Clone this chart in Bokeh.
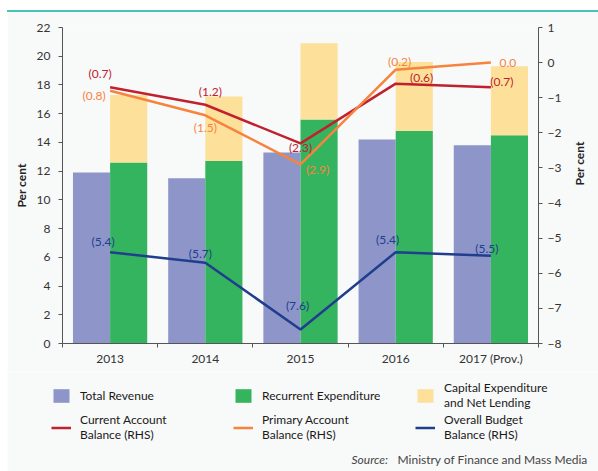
import math
from bokeh.plotting import figure
from bokeh.models import (Range1d, LinearAxis, FixedTicker, ColumnDataSource,
                          Legend, LegendItem, Label, Div, Spacer)
from bokeh.layouts import column, row
from bokeh.transform import dodge
from bokeh.embed import file_html
from bokeh.resources import INLINE
from bokeh.core.properties import value

# ---------------- data ----------------
years = ["2013", "2014", "2015", "2016", "2017 (Prov.)"]
total_revenue = [11.9, 11.5, 13.3, 14.2, 13.8]
recurrent_expenditure = [12.6, 12.7, 15.6, 14.8, 14.5]
capital_expenditure = [4.7, 4.5, 5.3, 4.8, 4.8]
current_account_balance = [-0.7, -1.2, -2.3, -0.6, -0.7]
primary_account_balance = [-0.8, -1.5, -2.9, -0.2, 0.0]
overall_budget_balance = [-5.4, -5.7, -7.6, -5.4, -5.5]
left_ticks = list(range(0, 23, 2))
right_ticks = list(range(-8, 2))
series_names = ["Total Revenue", "Recurrent Expenditure",
                "Capital Expenditure\nand Net Lending",
                "Current Account\nBalance (RHS)", "Primary Account\nBalance (RHS)",
                "Overall Budget\nBalance (RHS)"]

# ---------------- styling ----------------
BG = "#f8f9f9"
C_REV = "#8e96c9"
C_REC = "#35b45f"
C_CAP = "#fde19b"
C_CUR = "#c1212f"
C_PRI = "#f7843e"
C_OVR = "#203d8e"
FONT = "Lato"
TXT = "#333333"
W = 591

# label pixel offsets (screen px) for the line value labels
cur_dx = [-10, 5, 0, 26, 11]
cur_dy = [-14, -13, 4, -6, -6]
pri_dx = [-16, 0, 17, 4, 17]
pri_dy = [5, 12, 5, -8, 0]
ovr_dx = [-7, -5, -3, -8, -4]
ovr_dy = [-11, -9, -24, -13, -7]


def fmt(v):
    return f"({abs(v):.1f})" if v < 0 else f"{v:.1f}"


xs = list(range(1, len(years) + 1))
src = ColumnDataSource(dict(
    x=xs,
    rev=total_revenue,
    rec=recurrent_expenditure,
    cap_top=[r + c for r, c in zip(recurrent_expenditure, capital_expenditure)],
    cur=current_account_balance,
    pri=primary_account_balance,
    ovr=overall_budget_balance,
    cur_t=[fmt(v) for v in current_account_balance],
    pri_t=[fmt(v) for v in primary_account_balance],
    ovr_t=[fmt(v) for v in overall_budget_balance],
    cur_dx=cur_dx, cur_dy=cur_dy,
    pri_dx=pri_dx, pri_dy=pri_dy,
    ovr_dx=ovr_dx, ovr_dy=ovr_dy,
))

p = figure(width=W, height=360,
           x_range=Range1d(0.5, len(years) + 0.5), y_range=Range1d(0, 22),
           output_backend="svg", toolbar_location=None,
           min_border_left=55, min_border_right=60,
           min_border_top=15, min_border_bottom=29,
           background_fill_color=BG, border_fill_color=BG,
           outline_line_color=None)
p.extra_y_ranges = {"right": Range1d(-8, 1)}
p.grid.visible = False

BW = 0.39


def draw_series(fig, **extra):
    r1 = fig.vbar(x=dodge("x", -BW / 2, range=fig.x_range), top="rev", bottom=0, width=BW,
                  source=src, fill_color=C_REV, line_color=None, **extra)
    r2 = fig.vbar(x=dodge("x", BW / 2, range=fig.x_range), top="rec", bottom=0, width=BW,
                  source=src, fill_color=C_REC, line_color=None, **extra)
    r3 = fig.vbar(x=dodge("x", BW / 2, range=fig.x_range), top="cap_top", bottom="rec",
                  width=BW, source=src, fill_color=C_CAP, line_color=None, **extra)
    r4 = fig.line(x="x", y="cur", source=src, y_range_name="right",
                  line_color=C_CUR, line_width=2.5, **extra)
    r5 = fig.line(x="x", y="pri", source=src, y_range_name="right",
                  line_color=C_PRI, line_width=2.5, **extra)
    r6 = fig.line(x="x", y="ovr", source=src, y_range_name="right",
                  line_color=C_OVR, line_width=2.5, **extra)
    return [r1, r2, r3, r4, r5, r6]


draw_series(p)

for key, col in (("cur", C_CUR), ("pri", C_PRI), ("ovr", C_OVR)):
    p.text(x="x", y=key, text=key + "_t", x_offset=key + "_dx", y_offset=key + "_dy",
           source=src, y_range_name="right", text_color=col,
           text_font=value(FONT), text_font_size="12px",
           text_align="center", text_baseline="middle")

# x axis: labels at centres, ticks at category boundaries
xa = p.xaxis[0]
xa.ticker = FixedTicker(ticks=xs, minor_ticks=[i + 0.5 for i in range(len(years) + 1)])
xa.major_label_overrides = {i: y for i, y in zip(xs, years)}
xa.major_tick_out = 0
xa.major_tick_in = 0
xa.minor_tick_out = 4
xa.minor_tick_in = 0
xa.axis_line_color = "#555555"
xa.minor_tick_line_color = "#555555"
xa.major_label_standoff = 3
xa.major_label_text_font = FONT
xa.major_label_text_font_size = "12px"
xa.major_label_text_color = TXT

ya = p.yaxis[0]
ya.ticker = FixedTicker(ticks=left_ticks, minor_ticks=[])
ya.axis_label = "Per cent"

yr = LinearAxis(y_range_name="right", ticker=FixedTicker(ticks=right_ticks, minor_ticks=[]),
                axis_label="Per cent")
p.add_layout(yr, "right")

for ax, std, lstd in ((ya, 8, 5), (yr, 5, 15)):
    ax.major_tick_out = 4
    ax.major_tick_in = 0
    ax.minor_tick_out = 0
    ax.axis_line_color = "#555555"
    ax.major_tick_line_color = "#555555"
    ax.major_label_standoff = std
    ax.major_label_text_font = FONT
    ax.major_label_text_font_size = "12px"
    ax.major_label_text_color = TXT
    ax.axis_label_standoff = lstd
    ax.axis_label_text_font = FONT
    ax.axis_label_text_font_size = "12px"
    ax.axis_label_text_font_style = "bold"
    ax.axis_label_text_color = "#222222"

if "axis_label_orientation" in yr.properties():
    yr.axis_label_orientation = math.pi / 2

# ---------------- legend + source panel ----------------
q = figure(width=W, height=99, x_range=Range1d(0.5, len(years) + 0.5),
           y_range=Range1d(0, 22), x_axis_type=None, y_axis_type=None,
           output_backend="svg", toolbar_location=None,
           min_border=0, background_fill_color=BG, border_fill_color=BG,
           outline_line_color=None)
q.extra_y_ranges = {"right": Range1d(-8, 1)}
q.grid.visible = False
leg_renderers = draw_series(q, visible=False)

legend = Legend(items=[LegendItem(label=n, renderers=[r])
                       for n, r in zip(series_names, leg_renderers)],
                orientation="horizontal", ncols=3, location=(44, 29),
                background_fill_alpha=0, border_line_color=None, padding=0, margin=0,
                inactive_fill_alpha=0,
                spacing=2, label_standoff=9, glyph_width=20, glyph_height=17,
                label_width=151, label_text_font=FONT, label_text_font_size="12px",
                label_text_color="#1a1a1a")
q.add_layout(legend, "center")

q.add_layout(Label(x=344, y=5, x_units="screen", y_units="screen", text="Source:",
                   text_font=FONT, text_font_size="12px", text_font_style="italic",
                   text_color="#444444"))
q.add_layout(Label(x=390, y=5, x_units="screen", y_units="screen",
                   text="Ministry of Finance and Mass Media",
                   text_font=FONT, text_font_size="12px", text_color="#444444"))

line = Div(text="", width=W, height=2, margin=(10, 0, 0, 0),
           styles={"background-color": "#47c2b7"})

if "frame_align" in q.properties():
    p.frame_align = False
    q.frame_align = False
    page = row(Spacer(width=7, height=471), column(line, p, q, spacing=0), spacing=0)
    out = file_html(page, INLINE)
else:
    top = row(Spacer(width=7, height=372), column(line, p, spacing=0), spacing=0)
    bottom = row(Spacer(width=7, height=99), q, spacing=0)
    out = file_html([top, bottom], INLINE)

open("out.html", "w").write(out)
